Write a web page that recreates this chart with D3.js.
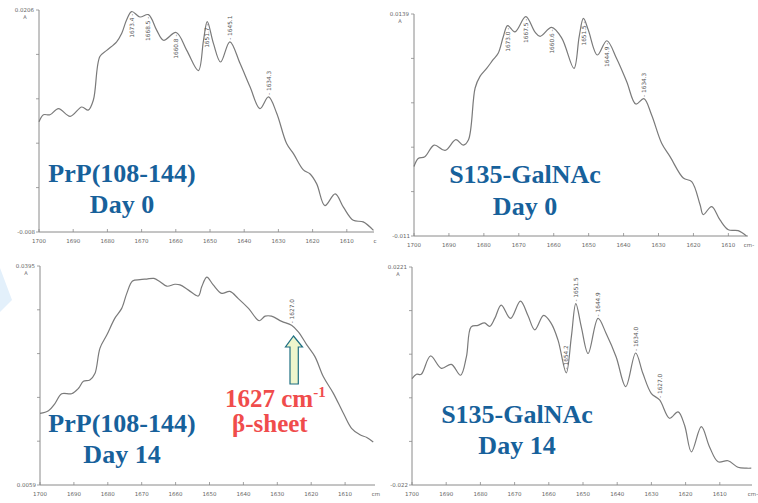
<!DOCTYPE html>
<html><head><meta charset="utf-8">
<script src="https://cdn.jsdelivr.net/npm/d3@7"></script>
<style>
html,body{margin:0;padding:0;background:#fff;}
svg{display:block;}
</style></head>
<body>
<svg id="c" width="758" height="503"></svg>
<script>
// ---------- DATA ----------
const xTicks = [1700,1690,1680,1670,1660,1650,1640,1630,1620,1610];

// Panel 1: PrP(108-144) Day 0  [wavenumber, absorbance]
const spec1 = [[1700.0,0.0062],[1698.7,0.0071],[1696.8,0.0071],[1694.3,0.0079],[1690.9,0.0069],[1687.5,0.0081],[1685.6,0.0077],[1684.1,0.0090],[1682.2,0.0146],[1680.2,0.0154],[1677.3,0.0165],[1675.8,0.0176],[1674.4,0.0193],[1672.9,0.0204],[1670.5,0.0197],[1668.0,0.0200],[1665.6,0.0180],[1663.6,0.0167],[1659.9,0.0177],[1656.8,0.0154],[1653.4,0.0128],[1651.9,0.0167],[1650.8,0.0191],[1649.0,0.0163],[1646.9,0.0139],[1644.2,0.0165],[1641.2,0.0137],[1638.3,0.0107],[1635.4,0.0079],[1632.9,0.0094],[1630.5,0.0073],[1627.6,0.0034],[1625.6,0.0021],[1622.7,-0.0000],[1620.8,-0.0005],[1618.8,-0.0018],[1616.4,-0.0046],[1613.4,-0.0031],[1611.0,-0.0048],[1608.1,-0.0065],[1605.2,-0.0067],[1602.2,-0.0078]];
const peaks1 = [[1672.9,"1673.4","below"],[1668.0,"1668.5","below"],[1659.9,"1660.8","below"],[1650.8,"1651.7","below"],[1644.2,"1645.1","above"],[1632.9,"1634.3","above"]];

// Panel 2: S135-GalNAc Day 0
const spec2 = [[1700.0,-0.0032],[1698.8,-0.0023],[1696.9,-0.0021],[1694.2,-0.0008],[1691.1,-0.0014],[1688.0,-0.0002],[1685.9,-0.0008],[1684.4,-0.0002],[1682.5,0.0056],[1681.1,0.0069],[1679.2,0.0078],[1677.3,0.0088],[1675.9,0.0095],[1674.4,0.0114],[1673.2,0.0126],[1671.1,0.0119],[1668.0,0.0136],[1665.4,0.0119],[1663.9,0.0114],[1660.6,0.0124],[1657.7,0.0112],[1654.2,0.0078],[1652.7,0.0114],[1651.5,0.0134],[1650.1,0.0121],[1647.5,0.0093],[1644.8,0.0109],[1642.0,0.0089],[1639.1,0.0063],[1636.5,0.0038],[1634.2,0.0044],[1632.0,0.0026],[1629.1,-0.0006],[1626.7,-0.0021],[1622.9,-0.0045],[1620.5,-0.0049],[1618.1,-0.0075],[1617.2,-0.0086],[1614.8,-0.0077],[1612.4,-0.0092],[1610.0,-0.0103],[1607.2,-0.0104],[1604.8,-0.0110]];
const peaks2 = [[1673.2,"1673.0","below"],[1668.0,"1667.5","below"],[1660.6,"1660.6","below"],[1651.4,"1651.5","below"],[1644.8,"1644.9","below"],[1634.3,"1634.3","above"]];

// Panel 3: PrP(108-144) Day 14
const spec3 = [[1700.0,0.0169],[1697.5,0.0173],[1695.6,0.0184],[1693.6,0.0199],[1690.7,0.0199],[1688.7,0.0207],[1687.2,0.0218],[1685.3,0.0220],[1683.8,0.0230],[1682.3,0.0269],[1680.3,0.0289],[1677.9,0.0315],[1675.9,0.0330],[1674.4,0.0353],[1672.7,0.0372],[1670.5,0.0374],[1668.5,0.0375],[1666.4,0.0376],[1664.6,0.0371],[1662.6,0.0364],[1660.2,0.0367],[1658.7,0.0366],[1656.2,0.0358],[1653.3,0.0349],[1652.3,0.0363],[1650.8,0.0378],[1648.9,0.0366],[1646.4,0.0353],[1644.0,0.0356],[1641.5,0.0345],[1638.5,0.0330],[1635.3,0.0311],[1633.6,0.0318],[1631.7,0.0318],[1628.7,0.0310],[1625.8,0.0304],[1623.8,0.0294],[1621.3,0.0274],[1618.9,0.0256],[1616.4,0.0225],[1613.5,0.0200],[1610.5,0.0169],[1608.1,0.0146],[1605.6,0.0136],[1603.6,0.0132],[1601.7,0.0125]];
const peaks3 = [[1625.8,"1627.0","above"]];

// Panel 4: S135-GalNAc Day 14
const spec4 = [[1700.0,-0.0005],[1698.7,0.0004],[1697.3,0.0004],[1694.6,0.0041],[1691.4,0.0016],[1688.5,0.0024],[1685.8,0.0002],[1684.1,0.0039],[1682.7,0.0100],[1680.7,0.0103],[1678.8,0.0108],[1677.3,0.0101],[1675.8,0.0117],[1673.9,0.0144],[1671.2,0.0117],[1668.3,0.0152],[1666.1,0.0123],[1664.1,0.0094],[1661.5,0.0123],[1659.3,0.0107],[1657.3,0.0073],[1654.9,0.0007],[1653.4,0.0080],[1652.1,0.0147],[1650.5,0.0100],[1648.5,0.0046],[1645.6,0.0117],[1643.2,0.0086],[1640.3,0.0039],[1637.5,-0.0021],[1634.6,0.0047],[1632.5,0.0006],[1630.0,-0.0035],[1627.6,-0.0048],[1624.7,-0.0085],[1622.2,-0.0072],[1620.3,-0.0099],[1618.3,-0.0153],[1615.4,-0.0102],[1613.0,-0.0143],[1610.5,-0.0173],[1607.6,-0.0171],[1604.7,-0.0184],[1602.2,-0.0186],[1600.8,-0.0186]];
const peaks4 = [[1655.0,"1654.2","above"],[1652.1,"1651.5","above"],[1645.6,"1644.9","above"],[1634.6,"1634.0","above"],[1627.6,"1627.0","above"]];

const titles = [["PrP(108-144)","Day 0"],["S135-GalNAc","Day 0"],["PrP(108-144)","Day 14"],["S135-GalNAc","Day 14"]];
const yLimits = [[-0.008,0.0206],[-0.011,0.0139],[0.0059,0.0395],[-0.022,0.0221]];
const yLabels = [["0.0206","-0.008"],["0.0139","-0.011"],["0.0395","0.0059"],["0.0221","-0.022"]];
const unitLabels = ["c","cm-","cm","cm-"];

// ---------- LAYOUT ----------
const layout = [
  {x0:39,  pxPerCm:3.42,  top:10,  bottom:232, axisEnd:374, tx:122, ty1:182, ty2:213},
  {x0:414, pxPerCm:3.493, top:14,  bottom:236, axisEnd:748, tx:525, ty1:183, ty2:215},
  {x0:40,  pxPerCm:3.39,  top:266, bottom:485, axisEnd:375, tx:122, ty1:432, ty2:463},
  {x0:412, pxPerCm:3.42,  top:267, bottom:485, axisEnd:752, tx:517, ty1:423, ty2:454}
];
const specs = [spec1,spec2,spec3,spec4];
const peaks = [peaks1,peaks2,peaks3,peaks4];

const svg = d3.select("#c");

// faint slide decoration at left
svg.append("path").attr("d","M0,268 L12,300 L0,312 Z").attr("fill","#e3f0fb");

function interp(data, wn){
  for(let i=0;i<data.length-1;i++){
    const a=data[i], b=data[i+1];
    if((wn<=a[0] && wn>=b[0])){
      const t=(a[0]-wn)/(a[0]-b[0]);
      return a[1]+(b[1]-a[1])*t;
    }
  }
  return data[data.length-1][1];
}

layout.forEach((L,i)=>{
  const g = svg.append("g");
  const x = d3.scaleLinear().domain([1700,1600]).range([L.x0, L.x0+100*L.pxPerCm]);
  const y = d3.scaleLinear().domain(yLimits[i]).range([L.bottom, L.top]);
  const axisCol = "#8a8a8a";
  const tickFont = "DejaVu Sans, sans-serif";

  // y axis
  g.append("line").attr("x1",L.x0).attr("x2",L.x0).attr("y1",L.top).attr("y2",L.bottom)
    .attr("stroke",axisCol).attr("stroke-width",1);
  const yt = d3.range(6).map(k=>yLimits[i][0]+k*(yLimits[i][1]-yLimits[i][0])/5);
  g.selectAll(".yt").data(yt).enter().append("line")
    .attr("x1",L.x0-3).attr("x2",L.x0).attr("y1",d=>y(d)).attr("y2",d=>y(d))
    .attr("stroke",axisCol).attr("stroke-width",0.8);
  // x axis
  g.append("line").attr("x1",L.x0).attr("x2",L.axisEnd).attr("y1",L.bottom).attr("y2",L.bottom)
    .attr("stroke",axisCol).attr("stroke-width",1);
  g.selectAll(".xt").data(xTicks).enter().append("line")
    .attr("x1",d=>x(d)).attr("x2",d=>x(d)).attr("y1",L.bottom).attr("y2",L.bottom-3)
    .attr("stroke",axisCol).attr("stroke-width",0.8);
  g.selectAll(".xl").data(xTicks).enter().append("text")
    .attr("x",d=>x(d)).attr("y",L.bottom+11).attr("text-anchor","middle")
    .attr("font-family",tickFont).attr("font-size",5.5).attr("fill","#666")
    .text(d=>d);
  g.append("text").attr("x",L.axisEnd+1).attr("y",L.bottom+11).attr("text-anchor","middle")
    .attr("font-family",tickFont).attr("font-size",5.5).attr("fill","#666").text(unitLabels[i]);
  // y labels
  g.append("text").attr("x",L.x0-5).attr("y",L.top+2).attr("text-anchor","end")
    .attr("font-family",tickFont).attr("font-size",5.5).attr("fill","#666").text(yLabels[i][0]);
  g.append("text").attr("x",L.x0-14).attr("y",L.top+9).attr("text-anchor","middle")
    .attr("font-family",tickFont).attr("font-size",5).attr("fill","#666").text("A");
  g.append("text").attr("x",L.x0-4).attr("y",L.bottom+2).attr("text-anchor","end")
    .attr("font-family",tickFont).attr("font-size",5.5).attr("fill","#666").text(yLabels[i][1]);

  // spectrum
  const line = d3.line().x(d=>x(d[0])).y(d=>y(d[1])).curve(d3.curveCatmullRom.alpha(0.5));
  g.append("path").datum(specs[i]).attr("d",line).attr("fill","none")
    .attr("stroke","#7a7a7a").attr("stroke-width",1.2);

  // peak labels
  peaks[i].forEach(p=>{
    const px = x(p[0]), py = y(interp(specs[i],p[0]));
    const above = p[2]==="above";
    g.append("text")
      .attr("transform",`translate(${px},${above?py-2:py+2}) rotate(-90)`)
      .attr("text-anchor",above?"start":"end").attr("dy","0.35em")
      .attr("font-family",tickFont).attr("font-size",5.8).attr("fill","#555")
      .text(above?("- "+p[1]):(p[1]+" -"));
  });

  // titles
  [titles[i][0],titles[i][1]].forEach((t,k)=>{
    g.append("text").attr("x",L.tx).attr("y",k?L.ty2:L.ty1).attr("text-anchor","middle")
      .attr("font-family","Liberation Serif, Times New Roman, serif").attr("font-weight","bold")
      .attr("font-size",26).attr("fill","#17619b").text(t);
  });
});

// Annotation on panel 3
svg.append("path")
  .attr("d","M293.5,336 L302.5,347 L298.3,347 L298.3,384 L290,384 L290,347 L285.5,347 Z")
  .attr("fill","#eef6cc").attr("stroke","#1f6f82").attr("stroke-width",1.2);
const red = "#f04c4c";
const t1 = svg.append("text").attr("x",225).attr("y",407)
  .attr("font-family","Liberation Serif, Times New Roman, serif").attr("font-weight","bold")
  .attr("font-size",25).attr("fill",red);
t1.append("tspan").text("1627 cm");
t1.append("tspan").attr("font-size",15).attr("dy",-10).text("-1");
svg.append("text").attr("x",232).attr("y",432)
  .attr("font-family","Liberation Serif, Times New Roman, serif").attr("font-weight","bold")
  .attr("font-size",25).attr("fill",red).text("β-sheet");
</script>
</body></html>
